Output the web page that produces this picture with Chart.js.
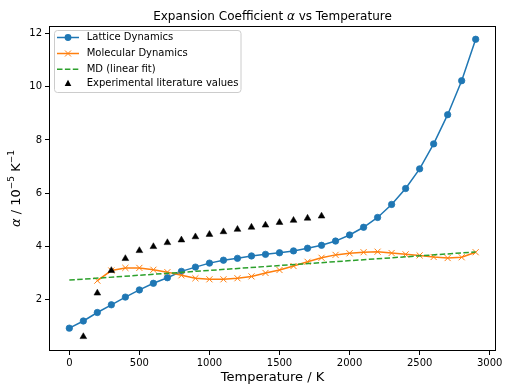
<!DOCTYPE html>
<html><head><meta charset="utf-8">
<script src="https://cdn.jsdelivr.net/npm/chart.js@4/dist/chart.umd.min.js"></script>
<style>html,body{margin:0;padding:0;background:#fff;}#wrap{width:508px;height:392px;position:relative}</style>
</head><body><div id="wrap"><canvas id="c" width="508" height="392"></canvas></div>
<script>
// ---- data ----
const latticeTemps = [0,100,200,300,400,500,600,700,800,900,1000,1100,1200,1300,1400,1500,1600,1700,1800,1900,2000,2100,2200,2300,2400,2500,2600,2700,2800,2900];
const latticeAlpha = [0.91,1.18,1.50,1.79,2.08,2.35,2.60,2.81,3.05,3.21,3.36,3.47,3.54,3.63,3.69,3.75,3.82,3.92,4.03,4.19,4.42,4.71,5.08,5.57,6.17,6.91,7.85,8.95,10.23,11.79];
const mdTemps = [200,300,400,500,600,700,800,900,1000,1100,1200,1300,1400,1500,1600,1700,1800,1900,2000,2100,2200,2300,2400,2500,2600,2700,2800,2900];
const mdAlpha = [2.70,3.08,3.18,3.18,3.11,3.02,2.90,2.79,2.75,2.75,2.79,2.86,2.99,3.10,3.25,3.41,3.56,3.67,3.73,3.77,3.79,3.74,3.69,3.65,3.59,3.55,3.58,3.77];
const fitTemps = [0,2900];
const fitAlpha = [2.72,3.78];
const expTemps = [100,200,300,400,500,600,700,800,900,1000,1100,1200,1300,1400,1500,1600,1700,1800];
const expAlpha = [0.59,2.23,3.08,3.53,3.83,3.98,4.13,4.23,4.35,4.44,4.54,4.63,4.71,4.79,4.89,4.97,5.05,5.13];
const xTickValues = [0,500,1000,1500,2000,2500,3000];
const yTickValues = [2,4,6,8,10,12];
const seriesNames = ['Lattice Dynamics','Molecular Dynamics','MD (linear fit)','Experimental literature values'];

const BLUE='#1f77b4', ORANGE='#ff7f0e', GREEN='#2ca02c';
const FONT='DejaVu Sans';
const pts=(xs,ys)=>xs.map((x,i)=>({x:x,y:ys[i]}));

function drawRuns(ctx, runs, x, y, align){
  let total=0;
  runs.forEach(r=>{ctx.font=r.font; r.w=ctx.measureText(r.t).width; total+=r.w;});
  let cx = align==='center' ? x-total/2 : x;
  runs.forEach(r=>{ctx.font=r.font; ctx.fillText(r.t,cx,y+(r.dy||0)); cx+=r.w;});
}

const decor = {
  id:'decor',
  afterDraw(chart){
    const ctx=chart.ctx, a=chart.chartArea;
    ctx.save();
    // frame
    ctx.strokeStyle='#000'; ctx.lineWidth=1;
    ctx.strokeRect(Math.round(a.left)+0.5, Math.round(a.top)+0.5, Math.round(a.right-a.left)-1, Math.round(a.bottom-a.top)-1);
    ctx.fillStyle='#000'; ctx.textBaseline='alphabetic'; ctx.textAlign='left';
    // title
    drawRuns(ctx,[{t:'Expansion Coefficient ',font:`12px "${FONT}"`},{t:'α',font:`italic 12px "${FONT}"`},{t:' vs Temperature',font:`12px "${FONT}"`}],(a.left+a.right)/2,19.5,'center');
    // x title
    drawRuns(ctx,[{t:'Temperature / K',font:`13px "${FONT}"`}],(a.left+a.right)/2,381,'center');
    // y title
    ctx.save();
    ctx.translate(19.5,(a.top+a.bottom)/2);
    ctx.rotate(-Math.PI/2);
    drawRuns(ctx,[{t:'α',font:`italic 13px "${FONT}"`},{t:' / 10',font:`13px "${FONT}"`},{t:'−5',font:`9px "${FONT}"`,dy:-5.5},{t:' K',font:`13px "${FONT}"`},{t:'−1',font:`9px "${FONT}"`,dy:-5.5}],0,0,'center');
    ctx.restore();
    // legend
    const lx=54.5, ly=30.5, lw=186.5, lh=62;
    ctx.beginPath();
    if(ctx.roundRect) ctx.roundRect(lx,ly,lw,lh,3); else ctx.rect(lx,ly,lw,lh);
    ctx.fillStyle='rgba(255,255,255,0.8)'; ctx.fill();
    ctx.strokeStyle='#cccccc'; ctx.lineWidth=1; ctx.stroke();
    const rows=[37.5,53.5,69.3,83];
    const hx0=57, hx1=79, hc=68;
    // lattice
    ctx.strokeStyle=BLUE; ctx.lineWidth=1.5; ctx.setLineDash([]);
    ctx.beginPath(); ctx.moveTo(hx0,rows[0]); ctx.lineTo(hx1,rows[0]); ctx.stroke();
    ctx.fillStyle=BLUE; ctx.beginPath(); ctx.arc(hc,rows[0],3.4,0,Math.PI*2); ctx.fill();
    // md
    ctx.strokeStyle=ORANGE;
    ctx.beginPath(); ctx.moveTo(hx0,rows[1]); ctx.lineTo(hx1,rows[1]); ctx.stroke();
    ctx.lineWidth=1; ctx.beginPath();
    ctx.moveTo(hc-3,rows[1]-3); ctx.lineTo(hc+3,rows[1]+3); ctx.moveTo(hc-3,rows[1]+3); ctx.lineTo(hc+3,rows[1]-3); ctx.stroke();
    // fit
    ctx.strokeStyle=GREEN; ctx.lineWidth=1.5; ctx.setLineDash([5.5,2.4]);
    ctx.beginPath(); ctx.moveTo(hx0,rows[2]); ctx.lineTo(hx1,rows[2]); ctx.stroke();
    ctx.setLineDash([]);
    // exp
    ctx.fillStyle='#000'; ctx.beginPath();
    ctx.moveTo(hc,rows[3]-3.3); ctx.lineTo(hc+3.3,rows[3]+3); ctx.lineTo(hc-3.3,rows[3]+3); ctx.closePath(); ctx.fill();
    // texts
    ctx.fillStyle='#000'; ctx.font=`10px "${FONT}"`; ctx.textBaseline='middle';
    seriesNames.forEach((n,i)=>ctx.fillText(n,86.7,rows[i]));
    ctx.restore();
  }
};

new Chart(document.getElementById('c'),{
  type:'line',
  data:{datasets:[
    {label:seriesNames[0],data:pts(latticeTemps,latticeAlpha),borderColor:BLUE,backgroundColor:BLUE,borderWidth:1.5,pointStyle:'circle',pointRadius:3.2,pointBorderWidth:0.8,pointBackgroundColor:BLUE,pointBorderColor:BLUE,tension:0,order:4},
    {label:seriesNames[1],data:pts(mdTemps,mdAlpha),borderColor:ORANGE,backgroundColor:ORANGE,borderWidth:1.5,pointStyle:'crossRot',pointRadius:4.3,pointBorderWidth:1,pointBorderColor:ORANGE,tension:0,order:3},
    {label:seriesNames[2],data:pts(fitTemps,fitAlpha),borderColor:GREEN,borderWidth:1.5,borderDash:[5.5,2.4],pointRadius:0,tension:0,order:2},
    {label:seriesNames[3],data:pts(expTemps,expAlpha),showLine:false,borderColor:'#000',backgroundColor:'#000',pointStyle:'triangle',pointRadius:3.9,pointBorderWidth:0.5,pointBackgroundColor:'#000',pointBorderColor:'#000',order:1}
  ]},
  options:{
    responsive:false, animation:false, devicePixelRatio:1,
    layout:{padding:{top:26,right:12,left:0,bottom:0}},
    plugins:{legend:{display:false},title:{display:false},tooltip:{enabled:false}},
    scales:{
      x:{type:'linear',min:-145,max:3045,
        afterBuildTicks:s=>{s.ticks=xTickValues.map(v=>({value:v}));},
        afterFit:s=>{s.height=41;},
        grid:{display:true,drawOnChartArea:false,drawTicks:true,tickLength:4,tickColor:'#000',tickWidth:1},
        border:{display:false},
        ticks:{font:{family:FONT,size:10},color:'#000',padding:2,maxRotation:0,autoSkip:false,callback:v=>String(v)}},
      y:{type:'linear',min:0.05,max:12.29,
        afterBuildTicks:s=>{s.ticks=yTickValues.map(v=>({value:v}));},
        afterFit:s=>{s.width=49;},
        grid:{display:true,drawOnChartArea:false,drawTicks:true,tickLength:4,tickColor:'#000',tickWidth:1},
        border:{display:false},
        ticks:{font:{family:FONT,size:10},color:'#000',padding:3,autoSkip:false,callback:v=>String(v)}}
    }
  },
  plugins:[decor]
});
</script></body></html>
